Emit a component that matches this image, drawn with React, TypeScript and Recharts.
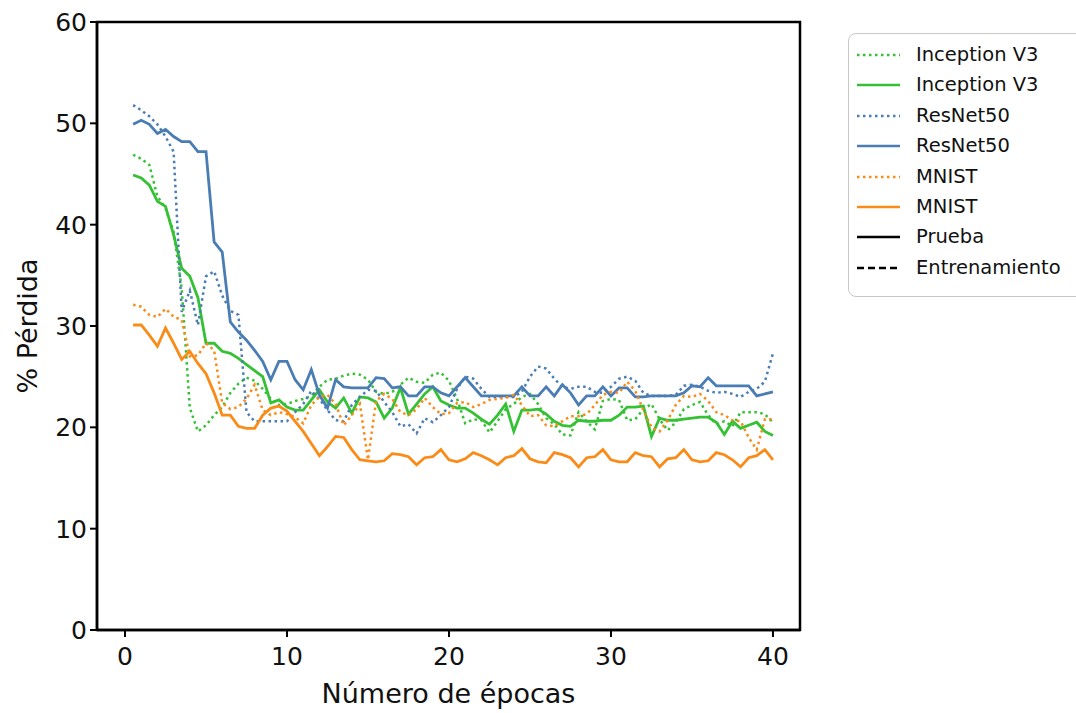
import React from 'react';
import { LineChart, Line, XAxis, YAxis, ReferenceArea } from 'recharts';

// epochs sampled every half epoch
const epochs = [
  0.5, 1, 1.5, 2, 2.5, 3, 3.5, 4, 4.5, 5,
  5.5, 6, 6.5, 7, 7.5, 8, 8.5, 9, 9.5, 10,
  10.5, 11, 11.5, 12, 12.5, 13, 13.5, 14, 14.5, 15,
  15.5, 16, 16.5, 17, 17.5, 18, 18.5, 19, 19.5, 20,
  20.5, 21, 21.5, 22, 22.5, 23, 23.5, 24, 24.5, 25,
  25.5, 26, 26.5, 27, 27.5, 28, 28.5, 29, 29.5, 30,
  30.5, 31, 31.5, 32, 32.5, 33, 33.5, 34, 34.5, 35,
  35.5, 36, 36.5, 37, 37.5, 38, 38.5, 39, 39.5, 40,
];

const inceptionTrain = [
  46.9, 46.5, 45.9, 42.8, 41.6, 39.3, 33.7, 21.9, 19.6, 20.2,
  21.2, 22.0, 23.4, 24.3, 24.9, 24.6, 23.8, 22.8, 22.2, 22.3,
  22.6, 22.8, 23.1, 24.0, 24.7, 24.8, 25.1, 25.3, 25.2, 24.7,
  23.5, 23.3, 23.5, 24.2, 24.9, 24.5, 24.4, 25.2, 25.4, 24.6,
  22.8, 20.4, 20.8, 20.7, 19.5, 20.6, 21.8, 22.3, 23.0, 23.3,
  22.3, 20.9, 20.3, 19.3, 19.2, 21.5, 20.6, 19.8, 22.6, 22.8,
  22.7, 20.7, 20.8, 21.8, 22.3, 20.8, 19.7, 20.5, 21.8, 22.2,
  22.5, 21.2, 20.3, 20.6, 20.1, 21.5, 21.5, 21.5, 21.3, 20.5,
];

const inceptionTest = [
  44.9, 44.6, 43.9, 42.3, 41.8, 39.0, 35.7, 34.9, 32.8, 28.3,
  28.3, 27.5, 27.3, 26.8, 26.2, 25.6, 25.0, 22.4, 22.7, 22.0,
  21.7, 21.7, 22.7, 23.7, 22.5, 21.9, 22.9, 21.4, 23.0, 22.9,
  22.5, 20.9, 21.9, 23.9, 21.3, 22.3, 23.3, 24.0, 22.6, 22.2,
  21.9, 21.9, 21.4, 20.8, 20.3, 21.2, 22.3, 19.6, 21.7, 21.7,
  21.8, 21.3, 20.6, 20.2, 20.1, 20.7, 20.6, 20.6, 20.7, 20.7,
  21.2, 22.0, 22.0, 22.1, 19.1, 20.9, 20.7, 20.7, 20.8, 20.9,
  21.0, 21.0, 20.5, 19.3, 20.6, 19.9, 20.2, 20.5, 19.6, 19.2,
];

const resnetTrain = [
  51.8, 51.3, 50.7, 49.9, 48.7, 47.2, 31.4, 33.5, 30.1, 34.9,
  35.4, 33.0, 31.5, 31.1, 21.5, 20.6, 20.6, 20.6, 20.6, 20.6,
  21.5, 22.3, 23.6, 22.8, 21.7, 20.7, 20.6, 22.2, 23.0, 23.7,
  23.6, 22.5, 21.5, 20.1, 20.3, 19.4, 20.9, 20.5, 21.2, 22.0,
  23.8, 25.0, 24.8, 23.8, 23.0, 23.0, 23.0, 23.0, 23.5, 25.0,
  26.0, 25.8, 24.8, 24.0, 23.8, 24.0, 24.0, 23.5, 23.4, 24.0,
  24.8, 25.0, 24.6, 23.4, 23.1, 23.1, 23.1, 23.2, 24.1, 24.2,
  24.0, 23.6, 23.4, 23.5, 23.3, 23.0, 23.5, 23.8, 24.5, 27.3,
];

const resnetTest = [
  49.9, 50.3, 49.9, 49.0, 49.4, 48.7, 48.2, 48.2, 47.2, 47.2,
  38.3, 37.3, 30.4, 29.4, 28.6, 27.6, 26.5, 24.7, 26.5, 26.5,
  24.7, 23.7, 25.7, 23.2, 21.9, 24.7, 24.0, 23.9, 23.9, 23.9,
  24.9, 24.8, 23.9, 24.0, 23.1, 23.1, 24.0, 24.0, 23.4, 23.1,
  24.0, 24.9, 24.0, 23.1, 23.1, 23.1, 23.1, 23.1, 24.0, 23.1,
  23.1, 24.0, 23.1, 24.2, 23.4, 22.2, 23.1, 23.1, 24.0, 23.1,
  23.9, 23.9, 23.0, 23.0, 23.1, 23.1, 23.1, 23.1, 23.4, 24.1,
  24.0, 24.9, 24.1, 24.1, 24.1, 24.1, 24.1, 23.1, 23.3, 23.5,
];

const mnistTrain = [
  32.1, 31.9, 31.1, 30.9, 31.7, 30.9, 30.6, 27.0, 27.1, 28.3,
  27.6, 22.4, 21.8, 22.0, 22.8, 24.2, 21.7, 21.2, 21.5, 21.3,
  21.0, 20.4, 22.2, 23.0, 23.2, 22.3, 20.2, 21.2, 22.3, 16.8,
  22.6, 23.3, 22.8, 21.5, 21.2, 21.8, 22.9, 22.0, 21.3, 21.4,
  22.4, 22.5, 22.0, 22.3, 22.7, 22.8, 22.9, 23.2, 22.2, 21.1,
  21.2, 20.2, 20.1, 20.6, 21.1, 21.1, 21.3, 22.2, 23.2, 23.5,
  23.4, 24.5, 23.6, 21.7, 20.0, 19.6, 20.7, 22.2, 23.1, 23.0,
  23.3, 22.6, 21.5, 21.2, 20.7, 20.6, 19.0, 17.8, 20.8, 20.8,
];

const mnistTest = [
  30.1, 30.1, 29.1, 28.0, 29.8, 28.3, 26.7, 27.5, 26.3, 25.3,
  23.4, 21.2, 21.2, 20.1, 19.9, 19.9, 21.2, 21.9, 22.1, 21.6,
  20.6, 19.6, 18.4, 17.2, 18.1, 19.1, 19.0, 17.8, 16.8, 16.7,
  16.6, 16.7, 17.4, 17.3, 17.1, 16.3, 17.0, 17.1, 17.8, 16.8,
  16.6, 16.9, 17.5, 17.2, 16.8, 16.3, 17.0, 17.2, 17.9, 16.9,
  16.6, 16.5, 17.5, 17.3, 17.0, 16.1, 17.0, 17.1, 17.8, 16.8,
  16.6, 16.6, 17.5, 17.2, 17.1, 16.1, 16.9, 17.0, 17.8, 16.8,
  16.6, 16.7, 17.5, 17.3, 16.8, 16.1, 17.0, 17.2, 17.8, 16.8,
];

const xTicks = [0, 10, 20, 30, 40];
const yTicks = [0, 10, 20, 30, 40, 50, 60];
const X_DOMAIN: [number, number] = [-1.73, 41.67];

const data = epochs.map((epoch, i) => ({
  epoch,
  inceptionTrain: inceptionTrain[i],
  inceptionTest: inceptionTest[i],
  resnetTrain: resnetTrain[i],
  resnetTest: resnetTest[i],
  mnistTrain: mnistTrain[i],
  mnistTest: mnistTest[i],
}));

const GREEN = '#34c134';
const BLUE = '#4a7db3';
const ORANGE = '#fa8b17';
const DOTS = '2.5 3.5';
const FONT = 'DejaVu Sans';

// drawn in this order, training curves dotted, test curves solid
const series = [
  { key: 'inceptionTrain', name: 'Inception V3', color: GREEN, dash: DOTS },
  { key: 'inceptionTest', name: 'Inception V3', color: GREEN, dash: undefined },
  { key: 'resnetTrain', name: 'ResNet50', color: BLUE, dash: DOTS },
  { key: 'resnetTest', name: 'ResNet50', color: BLUE, dash: undefined },
  { key: 'mnistTrain', name: 'MNIST', color: ORANGE, dash: DOTS },
  { key: 'mnistTest', name: 'MNIST', color: ORANGE, dash: undefined },
];

const legendItems = [
  ...series.map((s) => ({ label: s.name, color: s.color, dash: s.dash })),
  { label: 'Prueba', color: '#000', dash: undefined },
  { label: 'Entrenamiento', color: '#000', dash: '7 4' },
];

const LegendBox = () => (
  <div
    style={{
      position: 'absolute',
      left: 848,
      top: 33,
      width: 260,
      height: 264,
      border: '1.5px solid #c8c8c8',
      borderRadius: 8,
      background: '#fff',
      boxSizing: 'border-box',
    }}
  >
    {legendItems.map((item, i) => (
      <div
        key={i}
        style={{ position: 'absolute', left: 7, top: 9 + i * 30.4, height: 24, display: 'flex', alignItems: 'center' }}
      >
        <svg width={46} height={6}>
          <line x1={1} y1={3} x2={44} y2={3} stroke={item.color} strokeWidth={2.5} strokeDasharray={item.dash} />
        </svg>
        <span style={{ marginLeft: 14, fontFamily: FONT, fontSize: 19.5, color: '#111', lineHeight: '24px', whiteSpace: 'nowrap' }}>
          {item.label}
        </span>
      </div>
    ))}
  </div>
);

const App = () => (
  <div style={{ position: 'absolute', left: 0, top: 0, width: 1076, height: 713, overflow: 'hidden', background: '#fff' }}>
    <LineChart width={1076} height={713} data={data} margin={{ top: 22, right: 276, bottom: 0, left: 0 }}>
      <XAxis
        dataKey="epoch"
        type="number"
        domain={X_DOMAIN}
        ticks={xTicks}
        allowDataOverflow
        height={83}
        axisLine={{ stroke: '#000', strokeWidth: 2.5 }}
        tickLine={{ stroke: '#000', strokeWidth: 2 }}
        tickSize={7}
        tickMargin={10}
        tick={{ fontSize: 25, fill: '#111', fontFamily: FONT }}
        label={{ value: 'Número de épocas', position: 'insideBottom', offset: 10, fontSize: 27, fill: '#111', fontFamily: FONT }}
      />
      <YAxis
        type="number"
        domain={[0, 60]}
        ticks={yTicks}
        width={97}
        axisLine={{ stroke: '#000', strokeWidth: 2.5 }}
        tickLine={{ stroke: '#000', strokeWidth: 2 }}
        tickSize={7}
        tickMargin={3}
        tick={{ fontSize: 25, fill: '#111', fontFamily: FONT }}
        label={{
          content: () => (
            <text transform="translate(37,326) rotate(-90)" textAnchor="middle" fontSize={27} fill="#111" fontFamily={FONT}>
              % Pérdida
            </text>
          ),
        }}
      />
      <ReferenceArea x1={X_DOMAIN[0]} x2={X_DOMAIN[1]} y1={0} y2={60} fill="none" stroke="#000" strokeWidth={2.5} />
      {series.map((s) => (
        <Line
          key={s.key}
          dataKey={s.key}
          name={s.name}
          type="linear"
          stroke={s.color}
          strokeWidth={s.dash ? 2.5 : 2.8}
          strokeDasharray={s.dash}
          dot={false}
          activeDot={false}
          isAnimationActive={false}
        />
      ))}
    </LineChart>
    <LegendBox />
  </div>
);

export default App;
